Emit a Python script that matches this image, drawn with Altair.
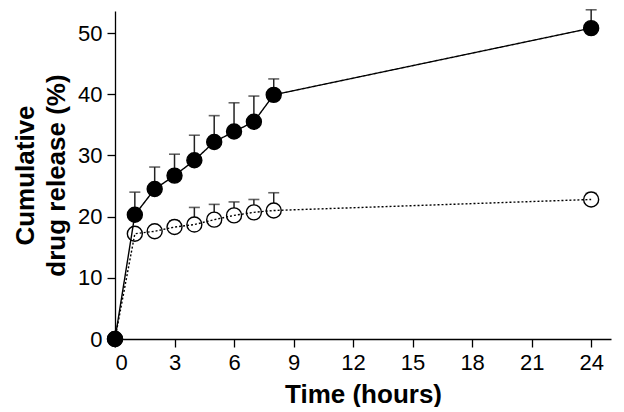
import altair as alt
import pandas as pd

times = [0, 1, 2, 3, 4, 5, 6, 7, 8, 24]
release_a = [0, 20.3, 24.5, 26.7, 29.2, 32.2, 33.9, 35.5, 39.9, 50.8]
sd_a = [0, 3.7, 3.6, 3.5, 4.1, 4.3, 4.7, 4.2, 2.6, 3.0]
release_b = [0, 17.2, 17.6, 18.3, 18.7, 19.5, 20.2, 20.7, 21.0, 22.8]
sd_b = [0, 0.8, 0.8, 1.0, 2.8, 2.5, 2.2, 2.1, 2.9, 1.0]
series_names = ["A", "B"]
x_ticks = [0, 3, 6, 9, 12, 15, 18, 21, 24]
y_ticks = [0, 10, 20, 30, 40, 50]

rows = []
# series B first so that series A is drawn on top where they overlap
for name, vals, sds in [("B", release_b, sd_b), ("A", release_a, sd_a)]:
    for t, v, s in zip(times, vals, sds):
        rows.append({"time": t, "release": v, "upper": v + s, "series": name})
df = pd.DataFrame(rows)

FONT = "Liberation Sans"
x = alt.X("time:Q", scale=alt.Scale(domain=[0, 25], nice=False),
          axis=alt.Axis(values=x_ticks, title="Time (hours)"))
y = alt.Y("release:Q", scale=alt.Scale(domain=[0, 53.6], nice=False),
          axis=alt.Axis(values=y_ticks, title=["Cumulative", "drug release (%)"]))

base = alt.Chart(df)
bars = base.mark_rule(color="#222222", strokeWidth=1.5).encode(
    x=x, y=y, y2="upper:Q", detail="series:N")
caps = base.mark_tick(color="#222222", thickness=1.6, size=11, orient="horizontal").encode(
    x="time:Q", y="upper:Q", detail="series:N")
pts = base.mark_point(filled=False, strokeWidth=1.4, opacity=1).encode(
    x="time:Q", y="release:Q",
    fill=alt.Fill("series:N", scale=alt.Scale(domain=series_names, range=["black", "white"]), legend=None),
    stroke=alt.value("black"),
    size=alt.value(225),
    shape=alt.value("circle"))
lines = base.mark_line(color="black", strokeWidth=1.4).encode(
    x="time:Q", y="release:Q",
    detail="series:N",
    strokeDash=alt.StrokeDash("series:N", scale=alt.Scale(domain=series_names, range=[[1, 0], [2, 2]]), legend=None))

chart = alt.layer(bars, caps, pts, lines).properties(
    width=496, height=328,
    padding={"left": 4, "top": 0, "right": 5, "bottom": 0}
).configure_view(stroke=None).configure_axis(
    grid=False, domainColor="black", tickColor="black", domainWidth=1.3, tickWidth=1.3,
    tickSize=8, labelFont=FONT, labelFontSize=22, labelColor="black",
    titleFont=FONT, titleFontSize=26, titleFontWeight="bold", titleColor="black",
    labelPadding=5
).configure_axisY(titlePadding=8, titleLineHeight=31).configure_axisX(titlePadding=8)

chart.save("out.html", embed_options={"renderer": "svg", "actions": False})
